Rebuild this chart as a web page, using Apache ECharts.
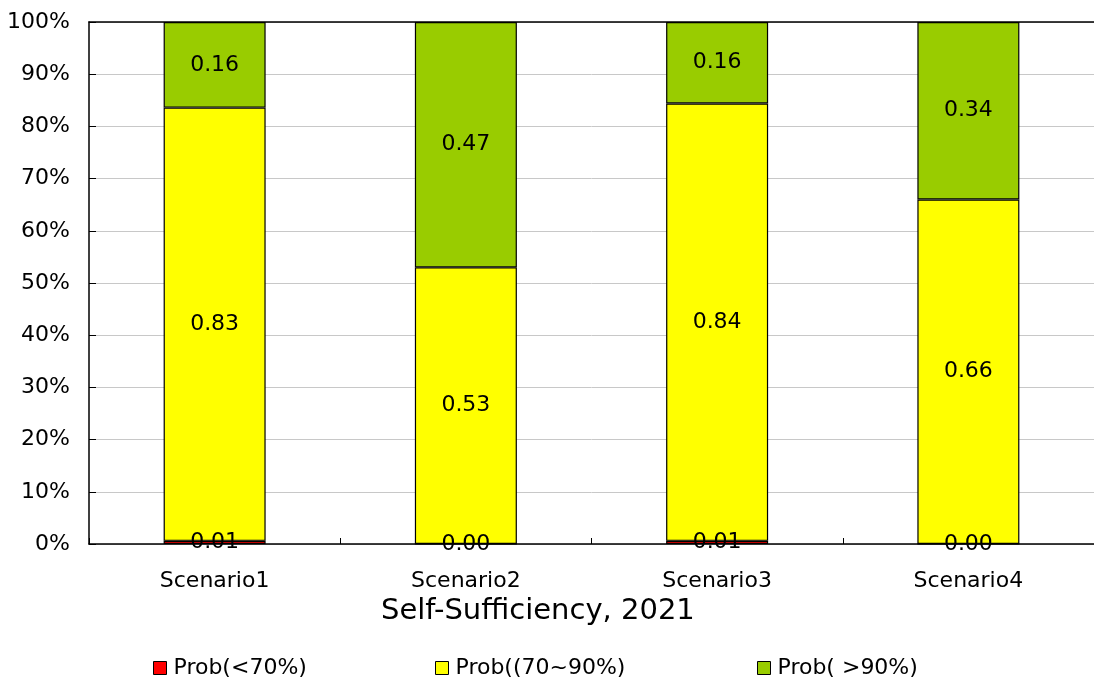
<!DOCTYPE html>
<html>
<head>
<meta charset="utf-8">
<script src="https://cdn.jsdelivr.net/npm/echarts@6/dist/echarts.min.js"></script>
<style>
html,body{margin:0;padding:0;background:#fff;}
#chart{width:1094px;height:679px;}
</style>
</head>
<body>
<div id="chart"></div>
<script>
const categories = ['Scenario1', 'Scenario2', 'Scenario3', 'Scenario4'];
const probLow = [0.006, 0, 0.006, 0];
const probMid = [0.83, 0.53, 0.838, 0.66];
const probHigh = [0.164, 0.47, 0.156, 0.34];
const seriesNames = ['Prob(<70%)', 'Prob((70~90%)', 'Prob( >90%)'];

const font = 'DejaVu Sans, sans-serif';
const colors = ['#ff0000', '#ffff00', '#99cc00'];

function makeSeries(name, data, color) {
    return {
        name: name,
        type: 'bar',
        stack: 'total',
        barWidth: '40.6%',
        data: data,
        itemStyle: {color: color, borderColor: '#000', borderWidth: 1.2},
        label: {
            show: true,
            position: 'inside',
            color: '#000',
            fontSize: 22,
            fontFamily: font,
            formatter: function(p) { return p.value.toFixed(2); }
        }
    };
}

const chart = echarts.init(document.getElementById('chart'));
chart.setOption({
    animation: false,
    color: colors,
    grid: {left: 89, top: 22, width: 1008, height: 522},
    title: {
        text: 'Self-Sufficiency, 2021',
        left: 376, top: 592,
        textStyle: {fontSize: 29, fontWeight: 'normal', color: '#000', fontFamily: font}
    },
    legend: seriesNames.map(function(n, i) {
        return {
            data: [n],
            left: [148, 430, 752][i],
            top: 652,
            itemWidth: 13,
            itemHeight: 13,
            itemGap: 4,
            icon: 'rect',
            itemStyle: {borderColor: '#000', borderWidth: 1},
            textStyle: {fontSize: 22, color: '#000', fontFamily: font, padding: [0, 0, 0, 2]}
        };
    }),
    xAxis: [{
        type: 'category',
        data: categories,
        axisLine: {lineStyle: {color: '#000', width: 1.5}},
        axisTick: {show: true, inside: true, length: 6, lineStyle: {color: '#000'}},
        axisLabel: {fontSize: 22, color: '#000', fontFamily: font, margin: 26}
    }, {
        type: 'category',
        position: 'top',
        data: categories,
        axisLine: {show: true, lineStyle: {color: '#000', width: 1.5}},
        axisTick: {show: false},
        axisLabel: {show: false}
    }],
    yAxis: {
        type: 'value',
        min: 0, max: 1, interval: 0.1,
        axisLine: {show: true, lineStyle: {color: '#000', width: 1.5}},
        axisTick: {show: true, inside: true, length: 7, lineStyle: {color: '#000'}},
        splitLine: {show: true, lineStyle: {color: '#c8c8c8', width: 1}},
        axisLabel: {
            fontSize: 22, color: '#000', fontFamily: font, margin: 19,
            formatter: function(v) { return Math.round(v * 100) + '%'; }
        }
    },
    series: [
        makeSeries(seriesNames[0], probLow, colors[0]),
        makeSeries(seriesNames[1], probMid, colors[1]),
        makeSeries(seriesNames[2], probHigh, colors[2])
    ]
});
</script>
</body>
</html>
